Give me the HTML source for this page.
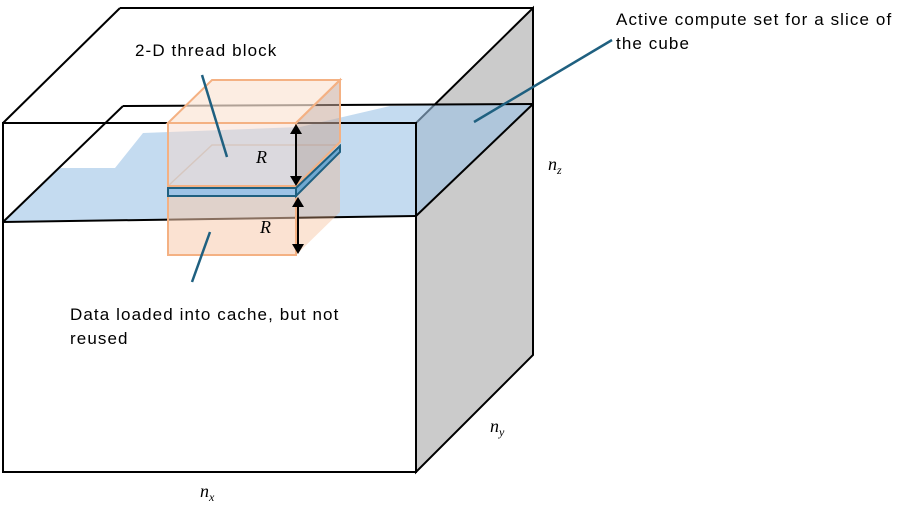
<!DOCTYPE html>
<html><head><meta charset="utf-8"><style>
html,body{margin:0;padding:0;background:#fff;}
svg{display:block;font-family:"Liberation Sans",sans-serif;}
.lbl{font-size:17px;letter-spacing:1.1px;}
</style></head><body>
<svg width="908" height="512" viewBox="0 0 908 512">
 <g stroke="#000" stroke-width="2" fill="none">
  <polygon points="416,123 533,8 533,355 416,472" fill="#cbcbcb"/>
  <line x1="3" y1="123" x2="120" y2="8"/>
  <line x1="120" y1="8" x2="533" y2="8"/>
 </g>
 <polygon points="3,222 60,168 115,168 143,133 300,127 390,106 533,104 416,216 300,219" fill="#9dc3e6" fill-opacity="0.6"/>
 <line x1="123" y1="106" x2="533" y2="104" stroke="#000" stroke-width="2"/>
 <line x1="3" y1="222" x2="123" y2="106" stroke="#000" stroke-width="2"/>
 <line x1="416" y1="216" x2="533" y2="104" stroke="#000" stroke-width="2"/>
 <line x1="3" y1="222" x2="416" y2="216" stroke="#000" stroke-width="2"/>
 <rect x="3" y="123" width="413" height="349" fill="none" stroke="#000" stroke-width="2"/>
 <g>
  <polygon points="296,196 340,152 340,212 296,255" fill="#f4b183" fill-opacity="0.35"/>
  <rect x="168" y="196" width="128" height="59" fill="#f8cbad" fill-opacity="0.55" stroke="#f4b183" stroke-width="2"/>
 </g>
 <g>
  <polygon points="168,123 212,80 340,80 296,123" fill="#fbe5d6" fill-opacity="0.7" stroke="#f4b183" stroke-width="2"/>
  <polyline points="168,186 212,145 340,145" fill="none" stroke="#bbb" stroke-width="1.5"/>
  <polygon points="296,123 340,80 340,142 296,186" fill="#c9a99a" fill-opacity="0.55" stroke="#f4b183" stroke-width="2"/>
  <rect x="168" y="123" width="128" height="63" fill="#f8d8c8" fill-opacity="0.45" stroke="#f4b183" stroke-width="2"/>
 </g>
 <g stroke="#1f6080" stroke-width="2">
  <polygon points="296,188 340,146 340,152 296,196" fill="#6fa8d0"/>
  <rect x="168" y="188" width="128" height="8" fill="#9dc3e6"/>
 </g>
 <g stroke="#000" stroke-width="2" fill="#000">
  <line x1="296" y1="132" x2="296" y2="178"/>
  <polygon points="290,134 302,134 296,124" stroke="none"/>
  <polygon points="290,176 302,176 296,186" stroke="none"/>
  <line x1="298" y1="206" x2="298" y2="245"/>
  <polygon points="292,207 304,207 298,197" stroke="none"/>
  <polygon points="292,244 304,244 298,254" stroke="none"/>
 </g>
 <text x="256" y="163" font-family="Liberation Serif,serif" font-style="italic" font-size="18">R</text>
 <text x="260" y="233" font-family="Liberation Serif,serif" font-style="italic" font-size="18">R</text>
 <g stroke="#1f6080" stroke-width="2.5">
  <line x1="202" y1="75" x2="227" y2="157"/>
  <line x1="210" y1="232" x2="192" y2="282"/>
  <line x1="612" y1="40" x2="474" y2="122"/>
 </g>
 <text class="lbl" x="135" y="56">2-D thread block</text>
 <text class="lbl" x="616" y="25">Active compute set for a slice of</text>
 <text class="lbl" x="616" y="49">the cube</text>
 <text class="lbl" x="70" y="320">Data loaded into cache, but not</text>
 <text class="lbl" x="70" y="344">reused</text>
 <g font-family="Liberation Serif,serif" font-style="italic">
  <text x="548" y="170" font-size="18">n<tspan font-size="12" dy="4">z</tspan></text>
  <text x="490" y="432" font-size="18">n<tspan font-size="12" dy="4">y</tspan></text>
  <text x="200" y="497" font-size="18">n<tspan font-size="12" dy="4">x</tspan></text>
 </g>
</svg>
</body></html>
